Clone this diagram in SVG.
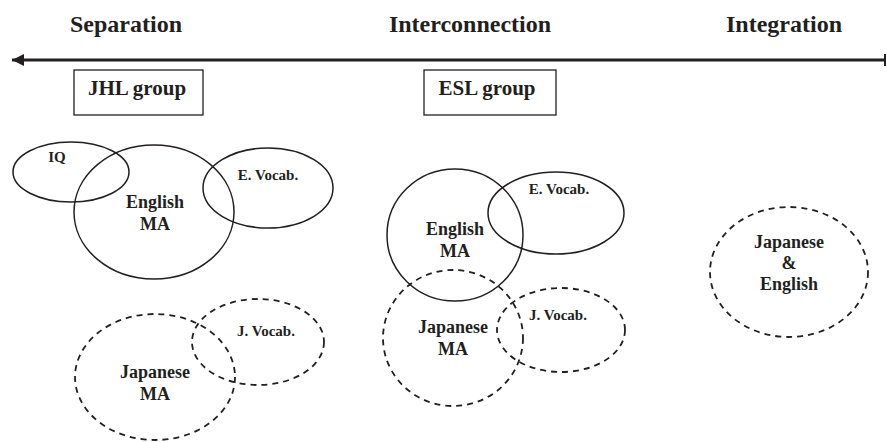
<svg xmlns="http://www.w3.org/2000/svg" width="887" height="442" viewBox="0 0 887 442">
<style>
text{font-family:"Liberation Serif","DejaVu Serif","Times New Roman",serif;font-weight:bold;fill:#231f20;text-anchor:middle}
.title{font-size:24px}
.grp{font-size:21px}
.lbl{font-size:18px}
.sm{font-size:15px}
.solid{fill:none;stroke:#231f20;stroke-width:1.5}
.dash{fill:none;stroke:#231f20;stroke-width:1.8;stroke-dasharray:6 5}
.box{fill:none;stroke:#231f20;stroke-width:1.3}
</style>
<defs>
<marker id="ah" markerWidth="13" markerHeight="13" refX="12" refY="6" orient="auto" markerUnits="userSpaceOnUse">
<path d="M0,0 L12,6 L0,12 Z" fill="#231f20"/>
</marker>
</defs>
<g id="titles" font-family="Liberation Serif, DejaVu Serif, serif">
<text class="title" x="126" y="32">Separation</text>
<text class="title" x="470" y="32">Interconnection</text>
<text class="title" x="784" y="32">Integration</text>
</g>
<g id="connectors">
<line x1="885" y1="60" x2="12" y2="60" stroke="#231f20" stroke-width="3.2" marker-end="url(#ah)"/>
<line x1="885" y1="54" x2="885" y2="66" stroke="#231f20" stroke-width="2"/>
</g>
<g id="jhl-group">
<rect class="box" x="74" y="70" width="129" height="45"/>
<text class="grp" x="137" y="95">JHL group</text>
</g>
<g id="esl-group">
<rect class="box" x="424" y="70" width="132" height="45"/>
<text class="grp" x="487" y="95">ESL group</text>
</g>
<g id="jhl-iq">
<ellipse class="solid" cx="71" cy="172" rx="58" ry="30"/>
<text class="sm" x="57" y="162">IQ</text>
</g>
<g id="jhl-english-ma">
<ellipse class="solid" cx="154" cy="212" rx="80" ry="67"/>
<text class="lbl" x="155" y="208">English</text>
<text class="lbl" x="155" y="230">MA</text>
</g>
<g id="jhl-e-vocab">
<ellipse class="solid" cx="268" cy="188" rx="65" ry="40"/>
<text class="sm" x="268" y="180">E. Vocab.</text>
</g>
<g id="jhl-japanese-ma">
<ellipse class="dash" cx="155" cy="377" rx="80" ry="63"/>
<text class="lbl" x="155" y="378">Japanese</text>
<text class="lbl" x="155" y="400">MA</text>
</g>
<g id="jhl-j-vocab">
<ellipse class="dash" cx="258" cy="342" rx="66" ry="43"/>
<text class="sm" x="266" y="336">J. Vocab.</text>
</g>
<g id="esl-english-ma">
<ellipse class="solid" cx="455" cy="235" rx="68" ry="66"/>
<text class="lbl" x="455" y="235">English</text>
<text class="lbl" x="455" y="257">MA</text>
</g>
<g id="esl-e-vocab">
<ellipse class="solid" cx="556" cy="213" rx="68" ry="41"/>
<text class="sm" x="559" y="194">E. Vocab.</text>
</g>
<g id="esl-japanese-ma">
<ellipse class="dash" cx="453" cy="338" rx="70" ry="68"/>
<text class="lbl" x="453" y="333">Japanese</text>
<text class="lbl" x="453" y="355">MA</text>
</g>
<g id="esl-j-vocab">
<ellipse class="dash" cx="561" cy="330" rx="64" ry="42"/>
<text class="sm" x="558" y="320">J. Vocab.</text>
</g>
<g id="integration-ja-en">
<ellipse class="dash" cx="789" cy="272" rx="79" ry="65"/>
<text class="lbl" x="789" y="248">Japanese</text>
<text class="lbl" x="789" y="269">&amp;</text>
<text class="lbl" x="789" y="290">English</text>
</g>
</svg>
